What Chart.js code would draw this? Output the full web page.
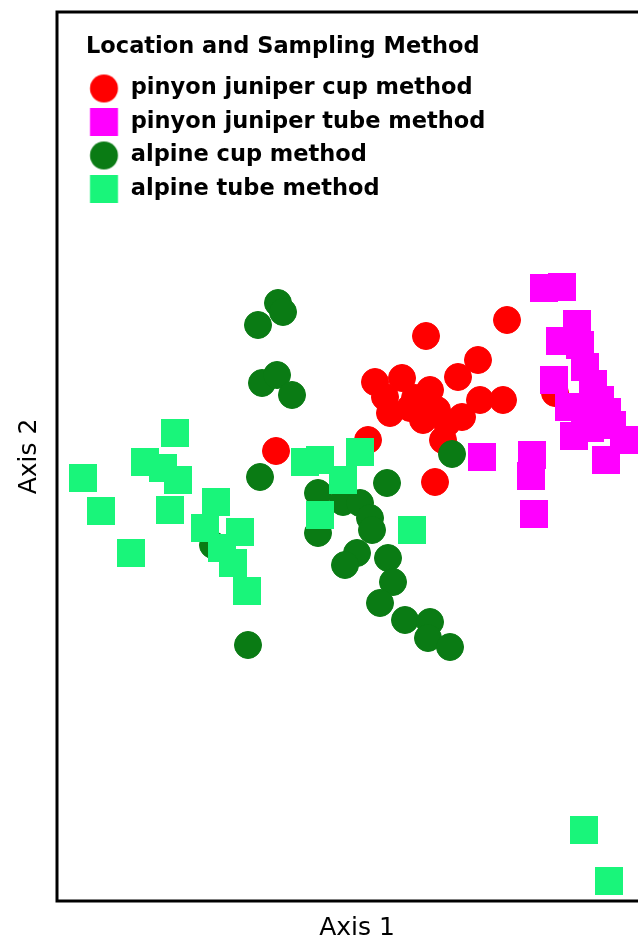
<!DOCTYPE html>
<html>
<head>
<meta charset="utf-8">
<title>Location and Sampling Method</title>
<script src="https://cdn.jsdelivr.net/npm/chart.js@4.4.1/dist/chart.umd.min.js"></script>
<style>
  html, body { margin: 0; padding: 0; background: #fff; overflow: hidden; }
  #wrap { width: 660px; height: 943px; }
</style>
</head>
<body>
<div id="wrap"><canvas id="ordination" width="660" height="943"></canvas></div>
<script>
// Legend entries, in the order they are listed.
const groupNames = ['pinyon juniper cup method', 'pinyon juniper tube method', 'alpine cup method', 'alpine tube method'];
const groupColors = ['#ff0000', '#ff00ff', '#0a7b14', '#19f57a'];
const groupShapes = ['circle', 'rect', 'circle', 'rect'];

// Ordination scores (axes have no ticks, units are arbitrary).
const pjCupX = [45.0, 36.9, 42.1, 40.1, 31.8, 34.5, 33.3, 32.8, 35.8, 37.3, 38.0, 36.6, 39.0, 38.6, 40.5, 42.3, 44.6, 31.1, 37.8, 21.9, 49.8, 35.3];
const pjCupY = [58.1, 56.5, 54.1, 52.4, 51.9, 52.3, 48.8, 50.4, 50.3, 51.1, 49.1, 48.1, 47.8, 46.1, 48.4, 50.1, 50.1, 46.1, 41.9, 45.0, 50.8, 49.3];

const pjTubeX = [48.7, 50.5, 52.0, 50.3, 52.3, 52.8, 49.7, 53.6, 54.3, 51.2, 55.0, 51.7, 53.3, 55.5, 56.7, 54.9, 47.5, 47.4, 47.7, 42.5, 52.8];
const pjTubeY = [61.3, 61.4, 57.7, 56.0, 55.6, 53.4, 52.1, 51.7, 50.1, 49.4, 48.9, 46.5, 47.3, 47.6, 46.1, 44.1, 44.6, 42.5, 38.7, 44.4, 49.1];

const alpCupX = [22.1, 22.6, 20.1, 20.5, 22.0, 23.5, 20.3, 19.1, 15.6, 39.5, 33.0, 26.1, 28.6, 30.3, 31.3, 31.5, 26.1, 30.0, 28.8, 33.1, 33.6, 32.3, 34.8, 37.3, 37.1, 39.3];
const alpCupY = [59.8, 58.9, 57.6, 51.8, 52.6, 50.6, 42.4, 25.6, 35.6, 44.7, 41.8, 40.8, 39.9, 39.8, 38.3, 37.1, 36.8, 34.8, 33.6, 34.3, 31.9, 29.8, 28.1, 27.9, 26.3, 25.4];

const alpTubeX = [11.8, 2.6, 8.8, 10.6, 12.1, 4.4, 11.3, 7.4, 15.9, 14.8, 18.3, 16.5, 17.6, 19.0, 24.8, 26.3, 30.3, 28.6, 26.3, 35.5, 52.7, 55.2];
const alpTubeY = [46.8, 42.3, 43.9, 43.3, 42.1, 39.0, 39.1, 34.8, 39.9, 37.3, 36.9, 35.3, 33.8, 31.0, 43.9, 44.1, 44.9, 42.1, 38.6, 37.1, 7.1, 2.0];

const toPoints = (xs, ys) => xs.map((x, i) => ({ x: x, y: ys[i] }));

// Small bitmaps for the legend so the symbols come out as big as the plotted ones.
const legendMarker = (shape, color) => {
    const c = document.createElement('canvas');
    c.width = 40;
    c.height = 30;
    const g = c.getContext('2d');
    g.fillStyle = color;
    if (shape === 'circle') {
        g.beginPath();
        g.arc(15.75, 15, 14, 0, Math.PI * 2);
        g.fill();
    } else {
        g.fillRect(1.75, 1, 28, 28);
    }
    return c;
};
const markers = groupShapes.map((s, i) => legendMarker(s, groupColors[i]));

const makeSet = (i, xs, ys, order) => {
    const isRect = groupShapes[i] === 'rect';
    return {
        label: groupNames[i],
        data: toPoints(xs, ys),
        pointStyle: groupShapes[i],
        pointRadius: isRect ? 19.8 : 13.5,
        borderWidth: isRect ? 0 : 1,
        backgroundColor: groupColors[i],
        borderColor: groupColors[i],
        order: order
    };
};

// Frame round the plot, and the legend moved into its top left corner.
const framePlugin = {
    id: 'frame',
    afterLayout(chart) {
        const lg = chart.legend;
        lg.left = chart.chartArea.left + 29;
        lg.top = chart.chartArea.top;
        lg.bottom = chart.chartArea.bottom;
        lg.right = lg.left + lg.width;
    },
    afterDraw(chart) {
        const { ctx, chartArea: a } = chart;
        ctx.save();
        ctx.strokeStyle = '#000';
        ctx.lineWidth = 3;
        ctx.strokeRect(a.left, a.top, a.right - a.left, a.bottom - a.top);
        ctx.restore();
    }
};

Chart.defaults.font.family = '"DejaVu Sans", sans-serif';
Chart.defaults.color = '#000';

const bareAxis = { display: false, drawTicks: false };

new Chart(document.getElementById('ordination'), {
    type: 'scatter',
    data: {
        datasets: [
            makeSet(0, pjCupX, pjCupY, 4),
            makeSet(1, pjTubeX, pjTubeY, 3),
            makeSet(2, alpCupX, alpCupY, 2),
            makeSet(3, alpTubeX, alpTubeY, 1)
        ]
    },
    options: {
        responsive: false,
        animation: false,
        events: [],
        layout: { autoPadding: false, padding: { top: 12, right: 3, bottom: 0, left: 0 } },
        scales: {
            x: {
                type: 'linear', min: 0, max: 60,
                ticks: { display: false },
                grid: bareAxis,
                border: { display: false },
                title: { display: true, text: 'Axis 1', color: '#000', font: { size: 25 }, padding: { top: 12, bottom: 0 } }
            },
            y: {
                type: 'linear', min: 0, max: 88.9,
                ticks: { display: false },
                grid: bareAxis,
                border: { display: false },
                title: { display: true, text: 'Axis 2', color: '#000', font: { size: 25 }, padding: { top: 14.5, bottom: 12.5 } }
            }
        },
        plugins: {
            tooltip: { enabled: false },
            legend: {
                position: 'chartArea',
                align: 'start',
                title: {
                    display: true,
                    text: 'Location and Sampling Method',
                    position: 'start',
                    color: '#000',
                    font: { size: 22.5, weight: 'bold' },
                    padding: { top: 24.25, bottom: 3 }
                },
                labels: {
                    usePointStyle: true,
                    padding: 11,
                    color: '#000',
                    font: { size: 22.5, weight: 'bold' },
                    generateLabels: () => groupNames.map((name, i) => ({
                        text: name,
                        fillStyle: groupColors[i],
                        strokeStyle: groupColors[i],
                        lineWidth: 0,
                        pointStyle: markers[i],
                        fontColor: '#000',
                        hidden: false,
                        datasetIndex: i
                    }))
                }
            }
        }
    },
    plugins: [framePlugin]
});
</script>
</body>
</html>
